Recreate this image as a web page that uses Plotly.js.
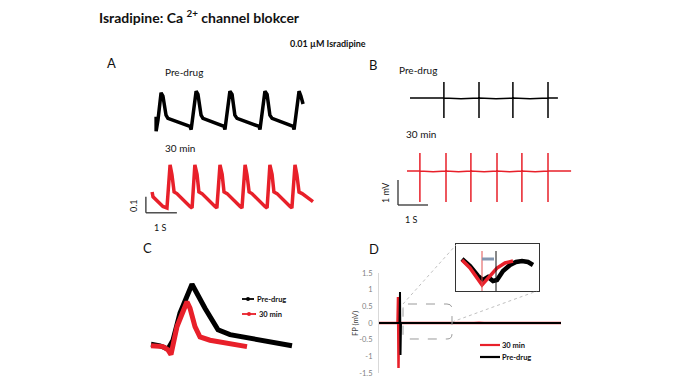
<!DOCTYPE html>
<html><head><meta charset="utf-8">
<script src="https://cdn.plot.ly/plotly-3.0.1.min.js"></script>
<style>html,body{margin:0;padding:0;background:#fff}#chart{width:690px;height:388px}</style>
</head><body><div id="chart"></div>
<script>
// ---------- Panel A: contraction traces (time s, amplitude a.u.) ----------
const aPreX = [0.52,0.52,0.58,0.68,0.74,0.84,0.90,1.61,1.65,1.81,1.87,1.97,2.03,2.71,2.74,2.90,2.97,3.06,3.13,3.84,3.87,4.03,4.10,4.19,4.26,4.94,4.97,5.13,5.19,5.26];
const aPreY = [0.67,0.58,0.65,0.82,0.80,0.68,0.66,0.61,0.59,0.83,0.81,0.68,0.66,0.61,0.59,0.83,0.81,0.68,0.66,0.61,0.59,0.83,0.81,0.68,0.66,0.61,0.59,0.83,0.80,0.75];
const aPostX = [0.39,0.42,0.74,0.87,0.97,1.03,1.10,1.19,1.61,1.68,1.77,1.84,1.90,2.00,2.42,2.48,2.58,2.65,2.71,2.81,3.23,3.29,3.39,3.45,3.52,3.61,4.03,4.10,4.19,4.26,4.32,4.42,4.84,4.90,5.00,5.06,5.13,5.23,5.58];
const aPostY = [0.20,0.17,0.11,0.10,0.37,0.31,0.20,0.19,0.11,0.10,0.37,0.31,0.20,0.19,0.11,0.10,0.37,0.31,0.20,0.19,0.11,0.10,0.37,0.31,0.20,0.19,0.11,0.10,0.37,0.31,0.20,0.19,0.11,0.10,0.37,0.31,0.20,0.19,0.14];

// ---------- Panel B: field potential traces (time s, mV) ----------
const bPreX = [1.00,2.13,2.13,2.13,2.13,2.70,3.30,3.30,3.30,3.30,3.87,4.43,4.43,4.43,4.43,5.00,5.60,5.60,5.60,5.60,5.93];
const bPreY = [5.08,5.08,5.72,4.28,5.08,5.05,5.08,5.72,4.28,5.08,5.05,5.08,5.72,4.28,5.08,5.05,5.08,5.72,4.28,5.08,5.08];
const bPostX = [0.90,1.33,1.33,1.33,1.33,1.77,2.20,2.20,2.20,2.20,2.62,3.03,3.03,3.03,3.03,3.47,3.90,3.90,3.90,3.90,4.32,4.73,4.73,4.73,4.73,5.17,5.60,5.60,5.60,5.60,6.37];
const bPostY = [2.16,2.16,2.88,0.92,2.16,2.13,2.16,2.88,0.92,2.16,2.13,2.16,2.88,0.92,2.16,2.13,2.16,2.88,0.92,2.16,2.13,2.16,2.88,0.92,2.16,2.13,2.16,2.88,0.92,2.16,2.16];

// ---------- Panel C: averaged single transient (ms, a.u.) ----------
const cPreX = [55,100,140,165,200,260,325,390,450,600,760];
const cPreY = [0.26,0.24,0.20,0.31,0.65,1.01,0.71,0.44,0.38,0.31,0.24];
const cPostX = [55,115,140,155,185,225,235,250,275,300,350,535];
const cPostY = [0.24,0.23,0.19,0.13,0.48,0.75,0.79,0.71,0.48,0.35,0.31,0.23];

// ---------- Panel D: FP (mV) over time (ms) ----------
const dPostX = [0,185,190,195,200,600,640,700,720,950,1000,1050,1820];
const dPostY = [0,0,0.78,-1.35,0,0,-0.015,-0.015,0,0,0.01,0,0];
const dPreX = [0,205,210,215,220,1820];
const dPreY = [0,0,0.93,-0.96,0,0];
const dTicks = [-1.5,-1,-0.5,0,0.5,1,1.5];
const dTickText = ['-1.5','-1','-0.5','0','0.5','1','1.5'];

// ---------- Inset (zoom of D) ----------
const iPostX = [6,14,26,34,41,49,57];
const iPostY = [31,23,6,15,23,28,30];
const iPreX = [6,14,22,27,32,37,41,47,54,60,66,72,77];
const iPreY = [32,25,15,11,14,10,11,20,26,29,30,29,26];

// ---------- layout helpers (pixel -> paper) ----------
const W = 690, H = 388;
const px = v => v / W;
const py = v => 1 - v / H;
const dx = (a, b) => [px(a), px(b)];
const dy = (top, bot) => [py(bot), py(top)];

const RED = '#e8202a', BLACK = '#000000';
const FONT = 'Lato, "Open Sans", sans-serif';

const traces = [
  {x: aPreX, y: aPreY, xaxis: 'x', yaxis: 'y', mode: 'lines', line: {color: BLACK, width: 3.5}},
  {x: aPostX, y: aPostY, xaxis: 'x', yaxis: 'y', mode: 'lines', line: {color: RED, width: 3.5}},
  {x: bPreX, y: bPreY, xaxis: 'x2', yaxis: 'y2', mode: 'lines', line: {color: BLACK, width: 1.5}},
  {x: bPostX, y: bPostY, xaxis: 'x2', yaxis: 'y2', mode: 'lines', line: {color: RED, width: 1.5}},
  {x: cPreX, y: cPreY, xaxis: 'x3', yaxis: 'y3', mode: 'lines', line: {color: BLACK, width: 5}},
  {x: cPostX, y: cPostY, xaxis: 'x3', yaxis: 'y3', mode: 'lines', line: {color: RED, width: 5}},
  {x: dPostX, y: dPostY, xaxis: 'x4', yaxis: 'y4', mode: 'lines', line: {color: RED, width: 2.5}},
  {x: dPreX, y: dPreY, xaxis: 'x4', yaxis: 'y4', mode: 'lines', line: {color: BLACK, width: 2}},
  {x: iPreX, y: iPreY, xaxis: 'x5', yaxis: 'y5', mode: 'lines', line: {color: BLACK, width: 4.5}},
  {x: iPostX, y: iPostY, xaxis: 'x5', yaxis: 'y5', mode: 'lines', line: {color: RED, width: 3.5}}
].map(t => Object.assign({hoverinfo: 'skip', showlegend: false, cliponaxis: false}, t));

const hidden = {visible: false, fixedrange: true};

function ann(text, x, y, opt) {
  return Object.assign({text: text, x: px(x), y: py(y), xref: 'paper', yref: 'paper',
    showarrow: false, xanchor: 'left', yanchor: 'middle',
    font: {family: FONT, size: 10, color: '#111'}}, opt || {});
}

const annotations = [
  ann('<b>Isradipine: Ca <sup>2+</sup> channel blokcer</b>', 97, 17, {font: {family: FONT, size: 14, color: '#111'}}),
  ann('<b>0.01 µM Isradipine</b>', 328, 43, {xanchor: 'center', font: {family: FONT, size: 9, color: '#111'}}),
  ann('A', 105, 63, {font: {family: FONT, size: 13, color: '#111'}}),
  ann('Pre-drug', 163, 72),
  ann('30 min', 163, 148),
  ann('0.1', 133, 206, {xanchor: 'center', textangle: -90, font: {family: FONT, size: 9, color: '#111'}}),
  ann('1 S', 160, 227, {xanchor: 'center', font: {family: FONT, size: 9, color: '#111'}}),
  ann('B', 367, 65, {font: {family: FONT, size: 13, color: '#111'}}),
  ann('Pre-drug', 397, 70),
  ann('30 min', 404, 134),
  ann('1 mV', 385, 193, {xanchor: 'center', textangle: -90, font: {family: FONT, size: 9, color: '#111'}}),
  ann('1 S', 411, 219, {xanchor: 'center', font: {family: FONT, size: 9, color: '#111'}}),
  ann('C', 141, 248, {font: {family: FONT, size: 13, color: '#111'}}),
  ann('<b>Pre-drug</b>', 255, 299, {font: {family: FONT, size: 7.5, color: '#111'}}),
  ann('<b>30 min</b>', 257, 314, {font: {family: FONT, size: 7.5, color: '#111'}}),
  ann('D', 367, 249, {font: {family: FONT, size: 13, color: '#111'}}),
  ann('FP (mV)', 355, 323, {xanchor: 'center', textangle: -90, font: {family: FONT, size: 7.5, color: '#444'}}),
  ann('<b>30 min</b>', 500, 345, {font: {family: FONT, size: 7.5, color: '#111'}}),
  ann('<b>Pre-drug</b>', 500, 357, {font: {family: FONT, size: 7.5, color: '#111'}})
];

function pline(x0, y0, x1, y1, line) {
  return {type: 'line', xref: 'paper', yref: 'paper', x0: px(x0), y0: py(y0), x1: px(x1), y1: py(y1), line: line};
}
function rrect(x0, y0, x1, y1, r) {
  const X = v => px(v).toFixed(5), Y = v => py(v).toFixed(5);
  return 'M' + X(x0 + r) + ',' + Y(y0) + ' L' + X(x1 - r) + ',' + Y(y0) +
    ' Q' + X(x1) + ',' + Y(y0) + ' ' + X(x1) + ',' + Y(y0 + r) +
    ' L' + X(x1) + ',' + Y(y1 - r) + ' Q' + X(x1) + ',' + Y(y1) + ' ' + X(x1 - r) + ',' + Y(y1) +
    ' L' + X(x0 + r) + ',' + Y(y1) + ' Q' + X(x0) + ',' + Y(y1) + ' ' + X(x0) + ',' + Y(y1 - r) +
    ' L' + X(x0) + ',' + Y(y0 + r) + ' Q' + X(x0) + ',' + Y(y0) + ' ' + X(x0 + r) + ',' + Y(y0) + ' Z';
}

const scaleLine = {color: '#333', width: 1.3};
const shapes = [
  {type: 'line', xref: 'x', yref: 'y', x0: 0.19, y0: 0.07, x1: 0.19, y1: 0.17, line: scaleLine},
  {type: 'line', xref: 'x', yref: 'y', x0: 0.19, y0: 0.07, x1: 1.19, y1: 0.07, line: scaleLine},
  {type: 'line', xref: 'x2', yref: 'y2', x0: 0.6, y0: 0.8, x1: 0.6, y1: 1.8, line: scaleLine},
  {type: 'line', xref: 'x2', yref: 'y2', x0: 0.6, y0: 0.8, x1: 1.6, y1: 0.8, line: scaleLine},
  pline(242, 299, 254, 299, {color: BLACK, width: 1.8}),
  {type: 'circle', xref: 'paper', yref: 'paper', x0: px(246), y0: py(301), x1: px(250), y1: py(297), fillcolor: BLACK, line: {width: 0}},
  pline(242, 314, 256, 314, {color: RED, width: 1.8}),
  {type: 'circle', xref: 'paper', yref: 'paper', x0: px(247), y0: py(316), x1: px(251), y1: py(312), fillcolor: RED, line: {width: 0}},
  pline(480, 345, 500, 345, {color: RED, width: 2.2}),
  pline(480, 357, 500, 357, {color: BLACK, width: 2.2}),
  {type: 'path', xref: 'paper', yref: 'paper', path: rrect(403, 304, 452, 339, 5), line: {color: '#9a9a9a', width: 1, dash: 'dash'}},
  pline(403, 304, 456, 245, {color: '#b0b0b0', width: 0.8, dash: 'dot'}),
  pline(452, 322, 537, 291, {color: '#b0b0b0', width: 0.8, dash: 'dot'}),
  {type: 'line', xref: 'x5', yref: 'y5', x0: 26, y0: 0, x1: 26, y1: 40, line: {color: '#e05050', width: 1}},
  {type: 'line', xref: 'x5', yref: 'y5', x0: 40, y0: 0, x1: 40, y1: 40, line: {color: '#111', width: 1}},
  {type: 'line', xref: 'x5', yref: 'y5', x0: 26, y0: 32, x1: 38, y1: 32, line: {color: '#8497b0', width: 3}}
];

const layout = {
  width: W, height: H,
  margin: {l: 0, r: 0, t: 0, b: 0},
  paper_bgcolor: '#fff', plot_bgcolor: 'rgba(0,0,0,0)',
  showlegend: false,
  font: {family: FONT},
  xaxis: Object.assign({domain: dx(140, 326), range: [0, 6], anchor: 'y'}, hidden),
  yaxis: Object.assign({domain: dy(80, 224), range: [0, 0.9], anchor: 'x'}, hidden),
  xaxis2: Object.assign({domain: dx(380, 600), range: [0, 220 / 30], anchor: 'y2'}, hidden),
  yaxis2: Object.assign({domain: dy(60, 225), range: [0, 6.6], anchor: 'x2'}, hidden),
  xaxis3: Object.assign({domain: dx(140, 300), range: [0, 800], anchor: 'y3'}, hidden),
  yaxis3: Object.assign({domain: dy(270, 365), range: [0, 1.1875], anchor: 'x3'}, hidden),
  xaxis4: Object.assign({domain: dx(379, 561), range: [0, 1820], anchor: 'y4'}, hidden),
  yaxis4: {domain: dy(273, 373), range: [-1.5, 1.5], anchor: 'x4', fixedrange: true,
    showline: true, linecolor: '#d9d9d9', linewidth: 1, showgrid: false, zeroline: false,
    ticks: '', tickvals: dTicks, ticktext: dTickText, ticklabelstandoff: 4,
    tickfont: {family: FONT, size: 7.5, color: '#7f7f7f'}},
  xaxis5: {domain: dx(456, 539), range: [0, 83], anchor: 'y5', fixedrange: true,
    showline: true, mirror: true, linecolor: '#333', linewidth: 1, showgrid: false,
    zeroline: false, showticklabels: false, ticks: ''},
  yaxis5: {domain: dy(244, 291), range: [0, 47], anchor: 'x5', fixedrange: true,
    showline: true, mirror: true, linecolor: '#333', linewidth: 1, showgrid: false,
    zeroline: false, showticklabels: false, ticks: ''},
  annotations: annotations,
  shapes: shapes
};

Plotly.newPlot('chart', traces, layout, {staticPlot: true, displayModeBar: false});
</script>
</body></html>
